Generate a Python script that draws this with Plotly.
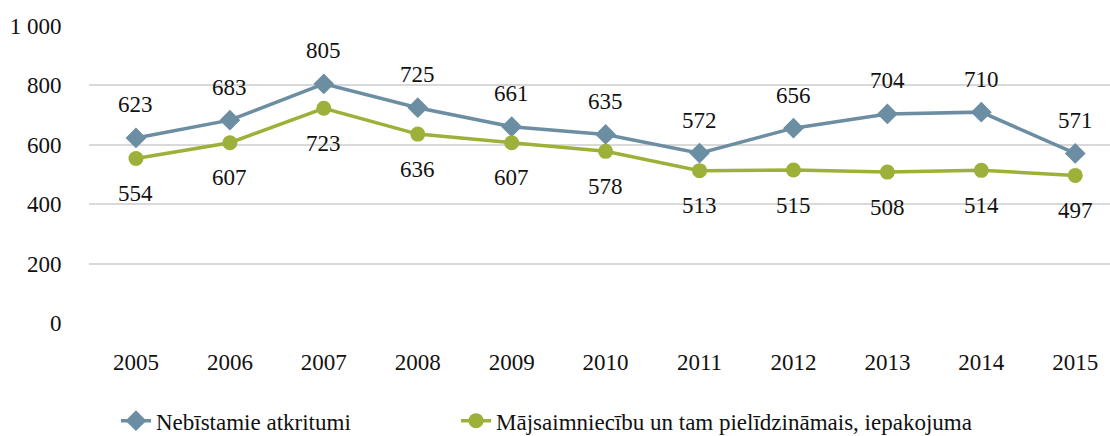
import plotly.graph_objects as go

years = ["2005", "2006", "2007", "2008", "2009", "2010", "2011", "2012", "2013", "2014", "2015"]
nebistamie = [623, 683, 805, 725, 661, 635, 572, 656, 704, 710, 571]
majsaimniecibu = [554, 607, 723, 636, 607, 578, 513, 515, 508, 514, 497]
name_blue = "Nebīstamie atkritumi"
name_green = "Mājsaimniecību un tam pielīdzināmais, iepakojuma"

BLUE = "#6c8ea3"
GREEN = "#9db13a"
FONT = "Liberation Serif"
FS = 23

fig = go.Figure()
fig.add_trace(go.Scatter(x=years, y=nebistamie, mode="lines+markers", name=name_blue,
                         line=dict(color=BLUE, width=3.5), legend="legend",
                         marker=dict(symbol="diamond", size=16, color=BLUE)))
fig.add_trace(go.Scatter(x=years, y=majsaimniecibu, mode="lines+markers", name=name_green,
                         line=dict(color=GREEN, width=3.5), legend="legend2",
                         marker=dict(symbol="circle", size=15, color=GREEN)))

for i, v in enumerate(nebistamie):
    fig.add_annotation(x=i, y=v, xref="x", yref="y", text=str(v), showarrow=False, yshift=33,
                       font=dict(family=FONT, size=FS, color="#111"))
for i, v in enumerate(majsaimniecibu):
    fig.add_annotation(x=i, y=v, xref="x", yref="y", text=str(v), showarrow=False, yshift=-35,
                       font=dict(family=FONT, size=FS, color="#111"))

legend_common = dict(orientation="h", y=-0.329, xanchor="left", yanchor="middle",
                     font=dict(family=FONT, size=FS, color="#111"), bgcolor="rgba(0,0,0,0)")

fig.update_layout(
    width=1110, height=436,
    margin=dict(l=89, r=0, t=26, b=113, autoexpand=False),
    paper_bgcolor="white", plot_bgcolor="white",
    separators=". ",
    font=dict(family=FONT, size=FS, color="#111"),
    showlegend=True,
    legend=dict(x=0.0264, **legend_common),
    legend2=dict(x=0.3595, **legend_common),
    xaxis=dict(type="category", range=[-0.5, 10.37], showgrid=False, showline=False,
               zeroline=False, ticks="outside", ticklen=18, tickcolor="rgba(0,0,0,0)",
               tickfont=dict(family=FONT, size=FS, color="#111")),
    yaxis=dict(range=[0, 1000], dtick=200, showgrid=True, gridcolor="#d9d9d9", gridwidth=1.5,
               zeroline=False, showline=False, separatethousands=True,
               ticks="outside", ticklen=22, tickcolor="rgba(0,0,0,0)",
               tickfont=dict(family=FONT, size=FS, color="#111")),
)

fig.write_html("out.html", config={"displayModeBar": False},
               post_script="document.body.style.margin='0';document.body.style.padding='0';")
